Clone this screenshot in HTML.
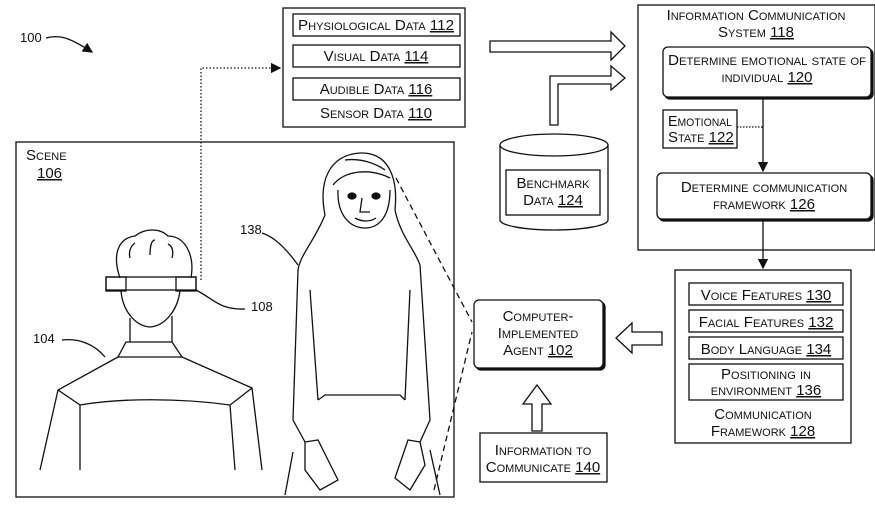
<!DOCTYPE html>
<html><head><meta charset="utf-8"><style>
html,body{margin:0;padding:0;background:#fff;}
svg{display:block;}
text{font-family:"Liberation Sans",sans-serif;font-size:15px;font-variant:small-caps;fill:#111;}
.n{font-variant:normal;font-size:13px;}
.u{text-decoration:underline;}
</style></head><body>
<svg width="875" height="514" viewBox="0 0 875 514" xmlns="http://www.w3.org/2000/svg" fill="none" stroke="#111" stroke-width="1.3">
<defs><marker id="a" markerWidth="8" markerHeight="8" refX="7" refY="4" orient="auto"><path d="M0,0 L8,4 L0,8 z" fill="#111" stroke="none"/></marker></defs>
<text x="20" y="42" class="n" stroke="none">100</text>
<path d="M46,38 C60,34 70,38 92,52" marker-end="url(#a)"/>
<rect x="283" y="8" width="182" height="119"/>
<rect x="293" y="14" width="167" height="22"/>
<rect x="293" y="45" width="167" height="22"/>
<rect x="293" y="78" width="167" height="22"/>
<g stroke="none" text-anchor="middle">
<text x="376" y="30" textLength="156" lengthAdjust="spacingAndGlyphs">Physiological Data <tspan class="u">112</tspan></text>
<text x="376" y="61">Visual Data <tspan class="u">114</tspan></text>
<text x="376" y="94">Audible Data <tspan class="u">116</tspan></text>
<text x="376" y="118">Sensor Data <tspan class="u">110</tspan></text>
</g>
<path d="M201,280 L201,68 L280,68" stroke-dasharray="1.5,2" marker-end="url(#a)"/>
<path d="M490,41 L611,41 L611,32 L625,46 L611,60 L611,52 L490,52 Z"/>
<path d="M550,125 L550,76 L611,76 L611,66 L625,78 L611,90 L611,84 L558,84 L558,125 Z"/>
<path d="M500,145 L500,220 A54,10 0 0 0 608,220 L608,145"/>
<ellipse cx="554" cy="145" rx="54" ry="11"/>
<rect x="506" y="170" width="94" height="45"/>
<g stroke="none" text-anchor="middle">
<text x="553" y="188">Benchmark</text>
<text x="553" y="205">Data <tspan class="u">124</tspan></text>
</g>
<rect x="638" y="5" width="237" height="245"/>
<g stroke="none" text-anchor="middle">
<text x="756" y="20">Information Communication</text>
<text x="756" y="37">System <tspan class="u">118</tspan></text>
</g>
<rect x="665" y="49" width="208" height="50" rx="5" fill="#111"/>
<rect x="663" y="47" width="208" height="50" rx="5" fill="#fff"/>
<g stroke="none" text-anchor="middle">
<text x="767" y="65" textLength="198" lengthAdjust="spacingAndGlyphs">Determine emotional state of</text>
<text x="767" y="82">individual <tspan class="u">120</tspan></text>
</g>
<rect x="663" y="110" width="74" height="38"/>
<g stroke="none">
<text x="668" y="126" textLength="64" lengthAdjust="spacingAndGlyphs">Emotional</text>
<text x="668" y="142">State <tspan class="u">122</tspan></text>
</g>
<path d="M737,127 L763,127" stroke-dasharray="1.5,1.5"/>
<path d="M763,97 L763,171" marker-end="url(#a)"/>
<rect x="659" y="175" width="214" height="46" rx="5" fill="#111"/>
<rect x="657" y="173" width="214" height="46" rx="5" fill="#fff"/>
<g stroke="none" text-anchor="middle">
<text x="764" y="192">Determine communication</text>
<text x="764" y="209">framework <tspan class="u">126</tspan></text>
</g>
<path d="M763,219 L763,268" marker-end="url(#a)"/>
<rect x="675" y="270" width="176" height="173"/>
<rect x="689" y="283" width="154" height="22"/>
<rect x="689" y="310" width="154" height="22"/>
<rect x="689" y="337" width="154" height="22"/>
<rect x="689" y="364" width="154" height="36"/>
<g stroke="none" text-anchor="middle">
<text x="766" y="300">Voice Features <tspan class="u">130</tspan></text>
<text x="766" y="327">Facial Features <tspan class="u">132</tspan></text>
<text x="766" y="354">Body Language <tspan class="u">134</tspan></text>
<text x="766" y="379">Positioning in</text>
<text x="766" y="395">environment <tspan class="u">136</tspan></text>
<text x="763" y="419">Communication</text>
<text x="763" y="436">Framework <tspan class="u">128</tspan></text>
</g>
<path d="M662,332 L632,332 L632,323 L616,338 L632,353 L632,345 L662,345 Z"/>
<rect x="476" y="302" width="129" height="68" rx="5" fill="#111"/>
<rect x="474" y="300" width="129" height="68" rx="5" fill="#fff"/>
<g stroke="none" text-anchor="middle">
<text x="538" y="321">Computer-</text>
<text x="538" y="338">Implemented</text>
<text x="538" y="355">Agent <tspan class="u">102</tspan></text>
</g>
<path d="M532,431 L532,404 L523,404 L537,385 L551,404 L542,404 L542,431 Z"/>
<rect x="480" y="433" width="127" height="49"/>
<g stroke="none" text-anchor="middle">
<text x="543" y="455">Information to</text>
<text x="543" y="472">Communicate <tspan class="u">140</tspan></text>
</g>
<rect x="16" y="142" width="438" height="355"/>
<g stroke="none">
<text x="26" y="160">Scene</text>
<text x="37" y="178"><tspan class="u">106</tspan></text>
<text x="240" y="234" class="n">138</text>
<text x="251" y="311" class="n">108</text>
<text x="33" y="343" class="n">104</text>
</g>
<path d="M120,278 C112,255 118,238 135,236 C145,228 160,228 168,236 C185,236 195,255 191,278"/>
<path d="M130,258 C128,250 132,245 135,243 M150,255 C150,245 152,240 155,240 M172,258 C174,250 172,246 168,244"/>
<rect x="106" y="277" width="90" height="13"/>
<rect x="106" y="277" width="20" height="14"/>
<rect x="176" y="277" width="20" height="14"/>
<path d="M121,290 C122,310 135,326 150,327 C165,326 178,310 180,290"/>
<path d="M130,318 L130,342 M172,316 L172,342 M126,342 L172,342 L182,357 L118,357 Z"/>
<path d="M118,357 L58,390 L40,470 M182,357 L252,388 L262,470 M58,390 L80,405 L80,470 M252,388 L230,405 L235,470 M80,405 C120,398 180,398 230,405"/>
<path d="M62,340 C80,338 95,345 105,357"/>
<path d="M196,290 C215,300 220,310 245,309"/>
<path d="M325,215 C318,180 330,155 360,153 C390,152 398,180 395,210"/>
<path d="M333,185 C345,170 370,168 390,178 M345,160 C360,158 375,163 385,170"/>
<path d="M338,190 C337,215 350,228 365,228 C380,228 390,215 390,190"/>
<ellipse cx="352" cy="196" rx="4" ry="3" fill="#111"/>
<ellipse cx="376" cy="196" rx="4" ry="3" fill="#111"/>
<path d="M362,198 L360,212 L370,212 M355,218 C362,222 370,222 376,218"/>
<path d="M325,215 C315,240 300,255 298,270 M395,210 C400,235 415,250 420,265"/>
<path d="M298,270 L293,420 L305,442 M420,265 L430,420 L420,442 M310,290 L318,400 M410,290 L405,400"/>
<path d="M318,400 L325,395 L400,395 L405,400 M305,442 L318,440 L338,480 L320,490 L305,470 Z M420,442 L408,440 L395,478 L410,490 L425,465 Z"/>
<path d="M293,452 L285,495 M430,450 L440,495"/>
<path d="M298,265 C280,240 268,235 262,233"/>
<path d="M396,178 L472,322" stroke-dasharray="6,4"/>
<path d="M434,490 L472,332" stroke-dasharray="6,4"/>
</svg>
</body></html>
